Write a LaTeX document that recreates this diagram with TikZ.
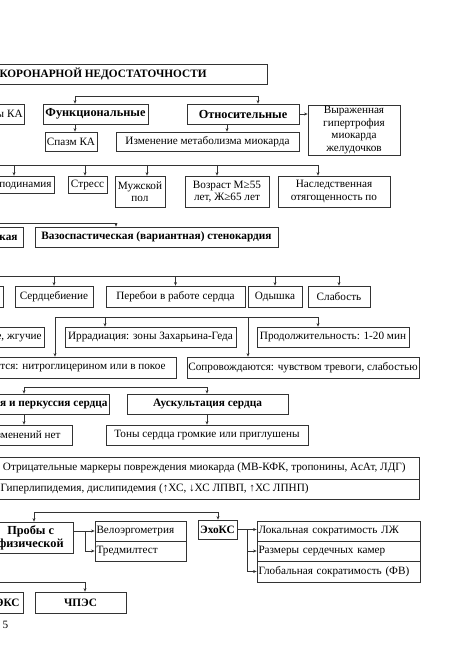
\documentclass[tikz,border=0pt]{standalone}
\usepackage{fontspec}
\setmainfont{Liberation Serif}
\usetikzlibrary{arrows.meta,positioning,calc}

\begin{document}
\begin{tikzpicture}[
  x=1pt, y=-1pt,
  box/.style={draw=black!80, line width=0.8pt, inner sep=0pt, align=center, font=\fontsize{11.2}{12.5}\selectfont},
  bbox/.style={box, font=\fontsize{11.3}{12.5}\selectfont\bfseries},
  kbox/.style={box, font=\fontsize{12.3}{13}\selectfont\bfseries},
  lbox/.style={box, align=left, text width=#1, inner xsep=1.5pt},
  sz/.style 2 args={minimum width=#1pt, minimum height=#2pt},
  arr/.style={-{Stealth[length=3.5pt,width=3pt]}, black!80, line width=0.7pt},
  bus/.style={black!80, line width=0.7pt}
]
  \useasboundingbox (0,0) rectangle (475,671);
  \clip (0,0) rectangle (475,671);

  % header and kinds
  \node[bbox, anchor=east, inner xsep=61pt, minimum height=20pt] (title) at (268,74) {КОРОНАРНОЙ НЕДОСТАТОЧНОСТИ};
  \node[box, anchor=east, inner xsep=2pt, minimum height=20pt] (sten) at (25,114) {Стенозы КА};
  \node[kbox, sz={105}{20}] (fun) at (95.5,114) {Функциональные};
  \node[kbox, sz={112}{20}] (rel) at (243,114) {Относительные};
  \node[box, sz={92}{50}] (hyp) at (354,130) {Выраженная\\гипертрофия\\миокарда\\желудочков};
  \node[box, sz={52}{19}] (spasm) at (71,141.5) {Спазм КА};
  \node[box, sz={183}{19}] (metab) at (207.5,141.5) {Изменение метаболизма миокарда};

  \coordinate (b2) at (75,96);
  \coordinate (b2e) at (258,96);
  \draw[bus] (b2) -- (b2e);
  \draw[arr] (b2) -- (b2 |- fun.north);
  \draw[arr] (b2e) -- (b2e |- rel.north);
  \draw[arr] (rel.east) -- (rel.east -| hyp.west);
  \draw[arr] (b2 |- fun.south) -- (b2 |- spasm.north);
  \draw[arr] ([xshift=-16pt]rel.south) -- ([xshift=-16pt]rel.south |- metab.north);

  % risk factors
  \node[box, anchor=east, inner xsep=3pt, minimum height=17pt] (gip) at (55,184.5) {Гиподинамия};
  \node[box, sz={39}{17}] (stress) at (87.5,184.5) {Стресс};
  \node[box, sz={50}{31}] (male) at (140,191.5) {Мужской\\пол};
  \node[box, sz={84}{31}] (age) at (227,191.5) {Возраст М≥55\\лет, Ж≥65 лет};
  \node[box, sz={112}{31}] (hered) at (334,191.5) {Наследственная\\отягощенность по};

  \coordinate (b4) at (-5,165);
  \coordinate (b4e) at (318,165);
  \draw[bus] (b4) -- (b4e);
  \draw[arr] ([xshift=-41pt]gip.north east |- b4) -- ([xshift=-41pt]gip.north east);
  \foreach \n/\d in {stress/-2.5, male/7, age/-10, hered/-16}
    \draw[arr] ([xshift=\d pt]\n.north |- b4) -- ([xshift=\d pt]\n.north);

  % angina forms
  \node[bbox, anchor=east, inner xsep=6pt, minimum height=20pt] (klass) at (24,237) {Классическая};
  \node[bbox, sz={243}{20}] (vaso) at (156.5,237) {Вазоспастическая (вариантная) стенокардия};
  \coordinate (b5) at (-5,223);
  \coordinate (b5e) at (116,223);
  \draw[bus] (b5) -- (b5e);
  \draw[arr] (b5e) -- (b5e |- vaso.north);

  % complaints
  \node[box, anchor=east, inner xsep=3pt, minimum height=21pt] (pain) at (4,296.5) {Боль};
  \node[box, sz={78}{21}] (palp) at (54,296.5) {Сердцебиение};
  \node[box, sz={139}{21}] (pereb) at (175.5,296.5) {Перебои в работе сердца};
  \node[box, sz={54}{21}] (dysp) at (275,296.5) {Одышка};
  \node[box, sz={62}{21}] (weak) at (339,296.5) {Слабость};
  \coordinate (b6) at (-5,276);
  \coordinate (b6e) at (339,276);
  \draw[bus] (b6) -- (b6e);
  \foreach \n in {palp, pereb, dysp, weak}
    \draw[arr] (\n.north |- b6) -- (\n.north);

  % pain features
  \node[box, anchor=east, inner xsep=3pt, minimum height=20pt] (char) at (45,337) {Сжимающие, жгучие};
  \node[box, sz={171}{20}] (irr) at (150.5,337) {Иррадиация: зоны Захарьина-Геда};
  \node[box, sz={152}{20}] (dur) at (333,337) {Продолжительность: 1-20 мин};
  \node[box, anchor=east, inner xsep=11pt, minimum height=21pt] (relief) at (177,367.5) {Купируются: нитроглицерином или в покое};
  \node[box, sz={232}{21}] (sopr) at (303,367.5) {Сопровождаются: чувством тревоги, слабостью};
  \coordinate (b7) at (55,317);
  \coordinate (b7e) at (318,317);
  \draw[bus] (b7) -- (b7e);
  \draw[arr] (b7) -- (b7 |- relief.north);
  \draw[arr] ([xshift=-45.5pt]irr.north |- b7) -- ([xshift=-45.5pt]irr.north);
  \draw[arr] ([xshift=-55pt]sopr.north |- b7) -- ([xshift=-55pt]sopr.north);
  \draw[arr] (b7e) -- (b7e |- dur.north);

  % examination
  \node[bbox, anchor=east, inner xsep=2pt, minimum height=20pt] (perc) at (110,404) {Пальпация и перкуссия сердца};
  \node[bbox, sz={161}{20}] (ausc) at (207.5,404) {Аускультация сердца};
  \node[box, anchor=east, inner xsep=12pt, minimum height=20pt] (noch) at (73,435) {Изменений нет};
  \node[box, sz={202}{20}] (tones) at (207,435) {Тоны сердца громкие или приглушены};
  \coordinate (b9) at (24,387);
  \coordinate (b9e) at (207,387);
  \draw[bus] (b9) -- (b9e);
  \draw[arr] (b9) -- (b9 |- perc.north);
  \draw[arr] (b9e) -- (b9e |- ausc.north);
  \draw[arr] (b9 |- perc.south) -- (b9 |- noch.north);
  \draw[arr] (b9e |- ausc.south) -- (b9e |- tones.north);

  % laboratory
  \node[box, anchor=east, inner xsep=14pt, minimum height=22pt] (mark) at (420,468) {Отрицательные маркеры повреждения миокарда (МВ-КФК, тропонины, АсАт, ЛДГ)};
  \node[box, anchor=east, inner xsep=111pt, minimum height=20pt] (lip) at (420,489) {Гиперлипидемия, дислипидемия (↑ХС, ↓ХС ЛПВП, ↑ХС ЛПНП)};

  % instrumental
  \node[kbox, anchor=east, inner xsep=10pt, minimum height=31pt] (load) at (74,537.5) {Пробы с\\физической};
  \node[lbox=88pt, minimum height=20pt] (velo) at (140.5,531) {Велоэргометрия};
  \node[lbox=88pt, minimum height=20pt] (tred) at (140.5,551) {Тредмилтест};
  \node[bbox, sz={39}{19}] (echo) at (217.5,529.5) {ЭхоКС};
  \node[lbox=160pt, minimum height=20pt] (lok) at (338.5,531) {Локальная сократимость ЛЖ};
  \node[lbox=160pt, minimum height=20pt] (raz) at (338.5,551) {Размеры сердечных камер};
  \node[lbox=160pt, minimum height=21pt] (glob) at (338.5,571.5) {Глобальная сократимость (ФВ)};
  \coordinate (b13) at (34,512);
  \coordinate (b13e) at (218,512);
  \draw[bus] (b13) -- (b13e);
  \draw[arr] (b13) -- (b13 |- load.north);
  \draw[arr] (b13e) -- (b13e |- echo.north);
  \draw[arr] (load.east |- velo.west) -- (velo.west);
  \draw[arr] ($(load.east |- velo.west)!0.55!(velo.west)$) |- (tred.west);
  \draw[arr] (echo.east) -- (echo.east -| lok.west);
  \draw[arr] ($(echo.east)!0.5!(echo.east -| lok.west)$) |- (raz.west);
  \draw[arr] ($(echo.east)!0.5!(echo.east -| lok.west)$) |- (glob.west);

  \node[bbox, anchor=east, inner xsep=4pt, minimum height=21pt] (eks) at (24,602.5) {ЭКС};
  \node[bbox, sz={91}{21}] (cpes) at (80.5,602.5) {ЧПЭС};
  \coordinate (b14) at (-5,582);
  \coordinate (b14e) at (85,582);
  \draw[bus] (b14) -- (b14e);
  \draw[arr] (b14e) -- (b14e |- cpes.north);

  \node[font=\fontsize{11.2}{12.5}\selectfont] (pg) at (5.5,625) {5};
\end{tikzpicture}
\end{document}
